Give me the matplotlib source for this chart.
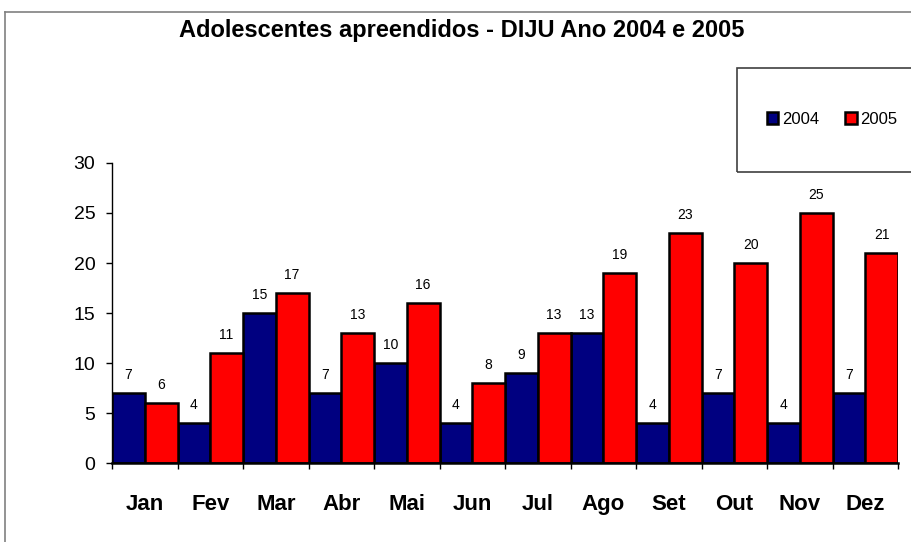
import matplotlib.pyplot as plt
import numpy as np
from matplotlib.patches import Rectangle
from matplotlib.lines import Line2D

plt.rcParams['font.family'] = ['Liberation Sans', 'DejaVu Sans']

# Data
months = ["Jan", "Fev", "Mar", "Abr", "Mai", "Jun", "Jul", "Ago", "Set", "Out", "Nov", "Dez"]
y2004 = [7, 4, 15, 7, 10, 4, 9, 13, 4, 7, 4, 7]
y2005 = [6, 11, 17, 13, 16, 8, 13, 19, 23, 20, 25, 21]
yticks = [0, 5, 10, 15, 20, 25, 30]

blue = "#000080"
red = "#FF0000"


def main():
    fig = plt.figure(figsize=(9.11, 5.42), dpi=100)
    ax = fig.add_axes([112 / 911, 79 / 542, 786 / 911, 300 / 542])

    x = np.arange(len(months))
    b1 = ax.bar(x, y2004, width=0.5, align="edge", color=blue,
                edgecolor="black", linewidth=1.8, label="2004")
    b2 = ax.bar(x + 0.5, y2005, width=0.5, align="edge", color=red,
                edgecolor="black", linewidth=1.8, label="2005")
    ax.bar_label(b1, padding=8, fontsize=10)
    ax.bar_label(b2, padding=8, fontsize=10)

    ax.set_xlim(0, len(months))
    ax.set_ylim(0, 30)
    ax.set_yticks(yticks)
    ax.tick_params(axis="y", direction="out", length=4, width=1, pad=8,
                   labelsize=14)

    # ticks at category boundaries, labels at centers
    ax.set_xticks(np.arange(len(months) + 1))
    ax.set_xticklabels([])
    ax.tick_params(axis="x", which="major", direction="out", length=4, width=1)
    ax.set_xticks(x + 0.5, minor=True)
    ax.set_xticklabels(months, minor=True, fontsize=16, fontweight="bold")
    ax.tick_params(axis="x", which="minor", length=0, pad=22)

    for s in ["top", "right"]:
        ax.spines[s].set_visible(False)
    ax.spines["left"].set_linewidth(1)
    ax.spines["bottom"].set_linewidth(1.8)

    fig.suptitle("Adolescentes apreendidos - DIJU Ano 2004 e 2005",
                 x=462 / 911, y=1 - 31 / 542, va="center",
                 fontsize=17, fontweight="bold")

    # outer chart border (clipped)
    fig.add_artist(Line2D([5 / 911, 5 / 911], [0, 1 - 12 / 542],
                          transform=fig.transFigure, color="#808080", lw=1.2))
    fig.add_artist(Line2D([5 / 911, 1], [1 - 12 / 542, 1 - 12 / 542],
                          transform=fig.transFigure, color="#808080", lw=1.2))

    # legend box
    fig.add_artist(Rectangle((737 / 911, 1 - 172 / 542), 200 / 911, 104 / 542,
                             transform=fig.transFigure, fill=False,
                             edgecolor="#404040", lw=1.2))
    fig.legend(handles=[b1, b2], labels=["2004", "2005"], ncol=2,
               loc="center left", bbox_to_anchor=(760 / 911, 1 - 119 / 542),
               frameon=False, fontsize=12, handlelength=0.7, handleheight=0.7,
               handletextpad=0.2, columnspacing=1.6, borderaxespad=0)

    fig.savefig("out.png", dpi=100)


if __name__ == "__main__":
    main()
